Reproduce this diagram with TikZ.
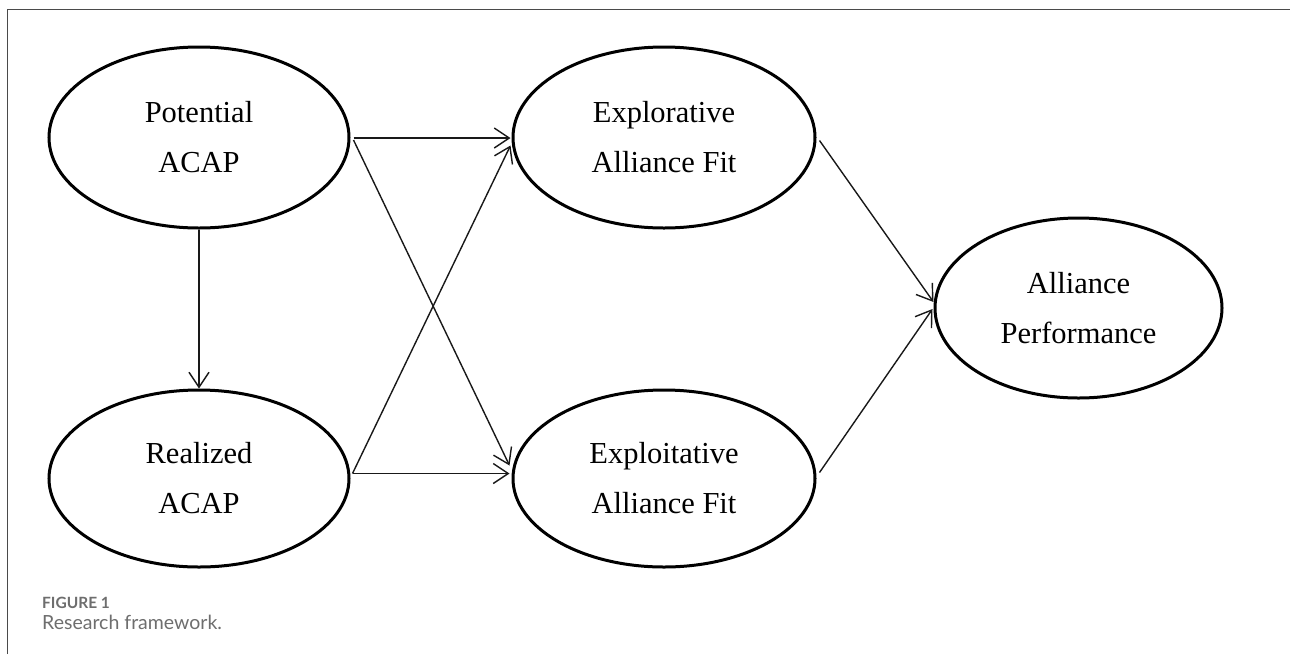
\documentclass[tikz,border=0pt]{standalone}
\usepackage{fontspec}
\setmainfont{Liberation Serif}
\newfontfamily\capfont{Lato}
\usetikzlibrary{shapes.geometric,arrows.meta,calc}
\definecolor{capgray}{HTML}{6E6E6E}
\definecolor{framegray}{HTML}{4A4A4A}
\begin{document}
\begin{tikzpicture}[x=1pt,y=-1pt,
  latent/.style={ellipse,draw=black,line width=3pt,minimum width=300pt,minimum height=181pt,inner sep=0pt,align=center,font=\fontsize{30.5}{50}\selectfont},
  link/.style={draw=black!90,line width=1.4pt,-{Straight Barb[length=15pt,width=20pt]}}]
\useasboundingbox (0,0) rectangle (1290,654);
\fill[white] (0,0) rectangle (1290,654);
\draw[line width=1.8pt,color=framegray] (7.5,654) -- (7.5,9.5) -- (1290,9.5);

\node[latent] (pot) at (199,137.5) {Potential\\ACAP};
\node[latent,minimum height=177pt] (real) at (199,478.5) {Realized\\ACAP};
\node[latent,minimum width=302pt] (explr) at (664,137.5) {Explorative\\Alliance Fit};
\node[latent,minimum width=302pt,minimum height=177pt] (exploi) at (664,478.5) {Exploitative\\Alliance Fit};
\node[latent,minimum width=287pt,minimum height=180pt] (perf) at (1078.5,308) {Alliance\\Performance};

\draw[link] (pot.south) -- (real.north);
\draw[link] ($(pot.east)+(3,0.5)$) -- ($(explr.west)+(-1,0.5)$);
\draw[link] ($(pot.east)+(3,2.5)$) -- ($(exploi.west)+(-2,-13)$);
\draw[link] ($(real.east)+(2,-5)$) -- ($(explr.west)+(-1,8)$);
\draw[link] ($(real.east)+(2,-5)$) -- ($(exploi.west)+(-2,-5)$);
\draw[link] ($(explr.east)+(3,3)$) -- ($(perf.west)+(0,-6)$);
\draw[link] ($(exploi.east)+(3,-6)$) -- ($(perf.west)+(-1,1)$);

\node[anchor=base west,inner sep=0pt,text=capgray,font=\capfont\bfseries\fontsize{15.5}{18}\selectfont] (figlab) at (42,608) {FIGURE 1};
\node[anchor=base west,inner sep=0pt,text=capgray,font=\capfont\fontsize{19.5}{24}\selectfont] (figcap) at (42,629) {Research framework.};
\end{tikzpicture}
\end{document}
